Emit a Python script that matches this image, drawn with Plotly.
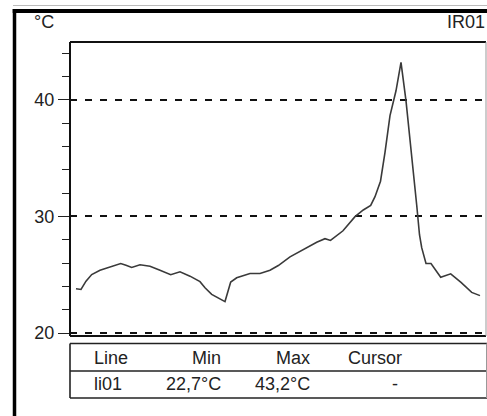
import plotly.graph_objects as go

# position along the measurement line (arbitrary units, 0..416 span of plot)
position = [6, 11, 16, 21.7, 30, 40, 50.7, 56, 61.7, 70, 80, 90, 100.7, 110, 120,
            130, 135, 141.7, 150, 155, 160.7, 166.7, 180, 190, 200, 208.3, 220,
            230, 240, 246.7, 255, 260.5, 273, 285, 293.3, 300.7, 305, 310.5, 315,
            320, 326, 331, 336, 341.7, 346.7, 349.5, 351.7, 356, 361, 370.7,
            380.7, 391, 401.7, 410]
temperature = [23.80, 23.74, 24.45, 25.02, 25.39, 25.68, 25.96, 25.81, 25.62, 25.85,
               25.73, 25.39, 25.00, 25.25, 24.88, 24.41, 23.89, 23.32, 22.95, 22.70,
               24.37, 24.74, 25.11, 25.11, 25.39, 25.79, 26.53, 27.00, 27.43, 27.79,
               28.09, 27.94, 28.77, 29.98, 30.55, 30.94, 31.69, 33.02, 35.49, 38.64,
               40.77, 43.20, 39.91, 35.38, 30.98, 28.43, 27.32, 25.96, 25.96, 24.79,
               25.08, 24.34, 23.49, 23.21]

y_major = [20, 30, 40]
table_header = ["Line", "Min", "Max", "Cursor"]
table_row = ["li01", "22,7°C", "43,2°C", "-"]
unit_label = "°C"
sensor_label = "IR01"

W, H = 487, 416
L, R, T, B = 70, 1, 42, 80
PW, PH = W - L - R, H - T - B


def px(x):
    return (x - L) / PW


def py(y):
    return (H - B - y) / PH


fig = go.Figure()
fig.add_trace(go.Scatter(x=position, y=temperature, mode="lines",
                         line=dict(color="#3a3a3a", width=1.6),
                         hoverinfo="skip", showlegend=False))

FONT = "Arial, Liberation Sans, sans-serif"
FS = 18

fig.update_layout(
    width=W, height=H,
    margin=dict(l=L, r=R, t=T, b=B),
    paper_bgcolor="white", plot_bgcolor="white",
    font=dict(family=FONT, size=FS, color="#222"),
    xaxis=dict(range=[0, 416], showgrid=False, showticklabels=False,
               zeroline=False, showline=False, ticks=""),
    yaxis=dict(range=[19.75, 44.95], tickvals=y_major, ticks="outside",
               ticklen=11, tickwidth=1.3, tickcolor="#222",
               showgrid=True, gridcolor="#111", gridwidth=1.5,
               griddash="7px,8px", zeroline=False, showline=False,
               tickfont=dict(family=FONT, size=FS, color="#222"),
               minor=dict(dtick=2, ticks="outside", ticklen=7,
                          tickwidth=1.3, tickcolor="#222", showgrid=False)),
)

shapes = []


def line(x0, y0, x1, y1, color="black", width=1.5):
    shapes.append(dict(type="line", xref="paper", yref="paper",
                       x0=px(x0), y0=py(y0), x1=px(x1), y1=py(y1),
                       line=dict(color=color, width=width)))


# outer frame
line(13, 5.5, 487, 5.5, "#bbbbbb", 1)
line(12.7, 11, 487, 11, "black", 3.8)
line(14.5, 9, 14.5, 416, "black", 3.5)
# plot frame
line(70, 42, 486, 42, "#111", 2)
line(70, 42, 70, 336, "#111", 2)
line(70, 336, 486, 336, "#111", 1.8)
line(486, 42, 486, 336, "#999", 1)
# table
line(70, 343.5, 487, 343.5, "#222", 1.6)
line(70, 371, 487, 371, "#222", 1.6)
line(70, 398, 487, 398, "#222", 1.6)
line(70, 343.5, 70, 398, "#222", 1.6)
line(486.5, 343.5, 486.5, 398, "#999", 1)

fig.update_layout(shapes=shapes)

ann = []


def text(s, x, y, xanchor):
    ann.append(dict(text=s, x=px(x), y=py(y), xref="paper", yref="paper",
                    xanchor=xanchor, yanchor="middle", showarrow=False,
                    font=dict(family=FONT, size=FS, color="#222")))


text(unit_label, 32, 22, "left")
text(sensor_label, 487, 22, "right")
hx = [(92, "left"), (223, "right"), (312, "right"), (346, "left")]
rx = [(92, "left"), (223, "right"), (312, "right"), (395, "center")]
for s, (x, a) in zip(table_header, hx):
    text(s, x, 358, a)
for s, (x, a) in zip(table_row, rx):
    text(s, x, 384, a)

fig.update_layout(annotations=ann)
fig.write_html("out.html", config={"displayModeBar": False},
               post_script="document.body.style.margin='0';"
                           "document.body.style.overflow='hidden';")
